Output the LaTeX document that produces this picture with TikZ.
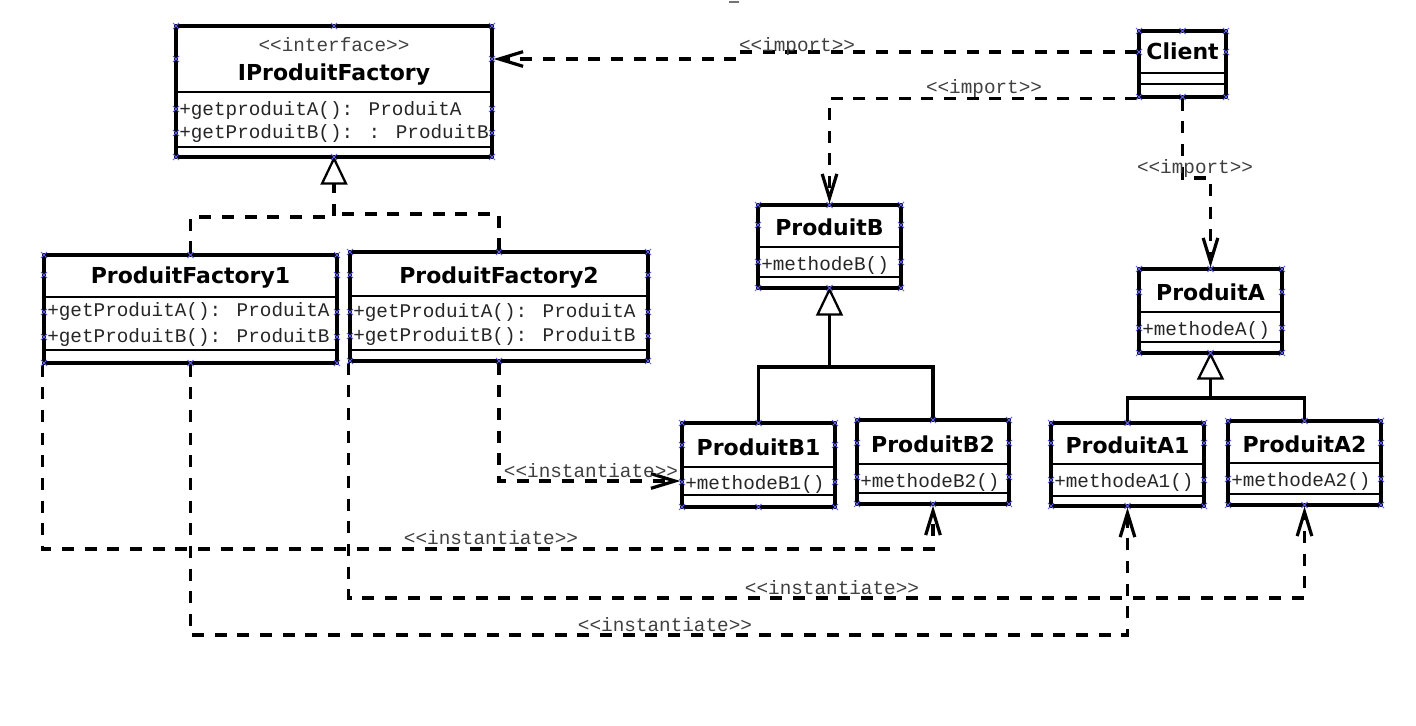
\documentclass[tikz,border=0pt]{standalone}
\usepackage{fontspec}
\newfontfamily\umlname{DejaVu Sans}
\newfontfamily\umlmono{Liberation Mono}
\usetikzlibrary{arrows.meta,fit}
\newcommand\hmark[2]{\draw[handle] (#1-3,#2-3) -- (#1+3,#2+3) (#1-3,#2+3) -- (#1+3,#2-3);}
\newcommand\umlbox[7]{%
  \node[box, fit={(#2,#3) (#4,#5)}] (#1) {};
  \draw[div] (#2,#6) -- (#4,#6) (#2,#7) -- (#4,#7);
}
\newcommand\umlmarks[5]{%
  \pgfmathsetmacro\cxm{(#1+#3)/2}%
  \hmark{\cxm}{#2}\hmark{\cxm}{#4}%
  \foreach \hx in {#1,#3}{\foreach \hy in {#2,#4,#5}{\hmark{\hx}{\hy}}}%
}
\begin{document}
\begin{tikzpicture}[x=0.75pt,y=-0.75pt,
  box/.style={draw, line width=2.4pt, inner sep=0pt, fill=white},
  div/.style={line width=2pt},
  cname/.style={font=\umlname\bfseries\fontsize{16.5}{18}\selectfont, inner sep=0pt, anchor=base},
  attr/.style={font=\umlmono\fontsize{14.5}{16}\selectfont, text=black!85, inner sep=0pt, anchor=base west},
  stereo/.style={font=\umlmono\fontsize{14.5}{16}\selectfont, text=black!75, inner sep=0pt, anchor=base},
  dep/.style={line width=2.4pt, dash pattern=on 9pt off 8pt},
  gen/.style={line width=2.3pt},
  opentip/.style={-{Straight Barb[length=18pt,width=11pt]}},
  hollow/.style={draw, fill=white, line width=1.7pt, line join=miter},
  handle/.style={draw={rgb,255:red,95;green,95;blue,240}, line width=0.75pt}
]
\useasboundingbox (0,0) rectangle (1416,725);
\fill[white] (0,0) rectangle (1416,725);

% class boxes
\umlbox{ipf}{176}{26}{492}{157}{92}{147}
\umlbox{client}{1139}{31}{1226}{97}{73}{84}
\umlbox{pf1}{44}{255}{337}{363}{297}{350}
\umlbox{pf2}{350}{252}{648}{361}{296}{350}
\umlbox{pb}{758}{205}{901}{288}{247}{277}
\umlbox{pb1}{682}{423}{835}{507}{467}{495}
\umlbox{pb2}{857}{420}{1009}{504}{464}{493}
\umlbox{pa}{1139}{269}{1282}{353}{312}{342}
\umlbox{pa1}{1051}{423}{1204}{506}{464}{496}
\umlbox{pa2}{1228}{421}{1381}{505}{463}{494}

% texts
\node[stereo] (ipfst) at (334,51) {<{}<interface>{}>};
\node[cname] (ipfn) at (334,80) {IProduitFactory};
\node[attr] (ipfa1) at (179,115) {+getproduitA(): ProduitA};
\node[attr] (ipfa2) at (179,138) {+getProduitB(): : ProduitB};
\node[cname] (clientn) at (1182.5,59) {Client};
\node[cname] (pf1n) at (190.5,283) {ProduitFactory1};
\node[attr] (pf1a1) at (47,316) {+getProduitA(): ProduitA};
\node[attr] (pf1a2) at (47,342) {+getProduitB(): ProduitB};
\node[cname] (pf2n) at (499,283) {ProduitFactory2};
\node[attr] (pf2a1) at (353,317) {+getProduitA(): ProduitA};
\node[attr] (pf2a2) at (353,341) {+getProduitB(): ProduitB};
\node[cname] (pbn) at (829.5,235) {ProduitB};
\node[attr] (pba) at (761,270) {+methodeB()};
\node[cname] (pb1n) at (758.5,455) {ProduitB1};
\node[attr] (pb1a) at (685,489) {+methodeB1()};
\node[cname] (pb2n) at (933,452) {ProduitB2};
\node[attr] (pb2a) at (860,487) {+methodeB2()};
\node[cname] (pan) at (1210.5,300) {ProduitA};
\node[attr] (paa) at (1142,335) {+methodeA()};
\node[cname] (pa1n) at (1127.5,453) {ProduitA1};
\node[attr] (pa1a) at (1054,487) {+methodeA1()};
\node[cname] (pa2n) at (1304.5,452) {ProduitA2};
\node[attr] (pa2a) at (1231,486) {+methodeA2()};

% realisation: factories -> interface (dashed)
\draw[hollow] (ipf.south) -- ++(-12,25) -- ++(24,0) -- cycle;
\coordinate (tri1) at ([yshift=-25*0.75pt]ipf.south);
\draw[dep] (pf1.north) -- (pf1.north |- 0,217) -- (tri1 |- 0,217) -- (tri1);
\draw[dep] (pf2.north) -- (pf2.north |- 0,214) -- (tri1 |- 0,214);

% generalisation: ProduitB1/B2 -> ProduitB
\draw[hollow] (pb.south) -- ++(-12,25) -- ++(24,0) -- cycle;
\coordinate (tri2) at ([yshift=-25*0.75pt]pb.south);
\draw[gen] (pb1.north) -- (pb1.north |- 0,367) -- (pb2.north |- 0,367) -- (pb2.north);
\draw[gen] (tri2) -- (tri2 |- 0,367);

% generalisation: ProduitA1/A2 -> ProduitA
\draw[hollow] (pa.south) -- ++(-12,24) -- ++(24,0) -- cycle;
\coordinate (tri3) at ([yshift=-24*0.75pt]pa.south);
\draw[gen] (pa1.north) -- (pa1.north |- 0,398) -- (pa2.north |- 0,398) -- (pa2.north);
\draw[gen] (tri3) -- (tri3 |- 0,398);

% imports from Client
\draw[dep, opentip] (client.west |- 0,52) -- (737,52) -- (737,59) -- (ipf.east |- 0,59);
\draw[dep, opentip] (client.south west) -- (pb.north |- client.south west) -- (pb.north);
\draw[dep, opentip] (client.south) -- (client.south |- 0,178) -- (pa.north |- 0,178) -- (pa.north);
\node[stereo] (l1) at (797,51) {<{}<import>{}>};
\node[stereo] (l2) at (984,93) {<{}<import>{}>};
\node[stereo] (l3) at (1195,173) {<{}<import>{}>};

% instantiate
\draw[dep, opentip] (pf2.south) -- (pf2.south |- 0,481) -- (pb1.west |- 0,481);
\draw[dep, opentip] (pf1.south west) -- (pf1.south west |- 0,549) -- (pb2.south |- 0,549) -- (pb2.south);
\draw[dep, opentip] (pf2.south west) -- (pf2.south west |- 0,598) -- (pa2.south |- 0,598) -- (pa2.south);
\draw[dep, opentip] (pf1.south) -- (pf1.south |- 0,635) -- (pa1.south |- 0,635) -- (pa1.south);
\node[stereo] (l4) at (591,477) {<{}<instantiate>{}>};
\node[stereo] (l5) at (491,544) {<{}<instantiate>{}>};
\node[stereo] (l6) at (832,594) {<{}<instantiate>{}>};
\node[stereo] (l7) at (665,631) {<{}<instantiate>{}>};

% stray mark at the top edge
\draw[black!55, line width=0.8pt] (729,2) -- (739,2);

% selection handles
\umlmarks{176}{26}{492}{157}{59,109,133}
\umlmarks{1139}{31}{1226}{97}{52}
\umlmarks{44}{255}{337}{363}{275,312,337}
\umlmarks{350}{252}{648}{361}{275,312,336}
\umlmarks{758}{205}{901}{288}{225,262}
\umlmarks{682}{423}{835}{507}{445,482}
\umlmarks{857}{420}{1009}{504}{443,477}
\umlmarks{1139}{269}{1282}{353}{292,328}
\umlmarks{1051}{423}{1204}{506}{443,480}
\umlmarks{1228}{421}{1381}{505}{443,479}
\end{tikzpicture}
\end{document}
